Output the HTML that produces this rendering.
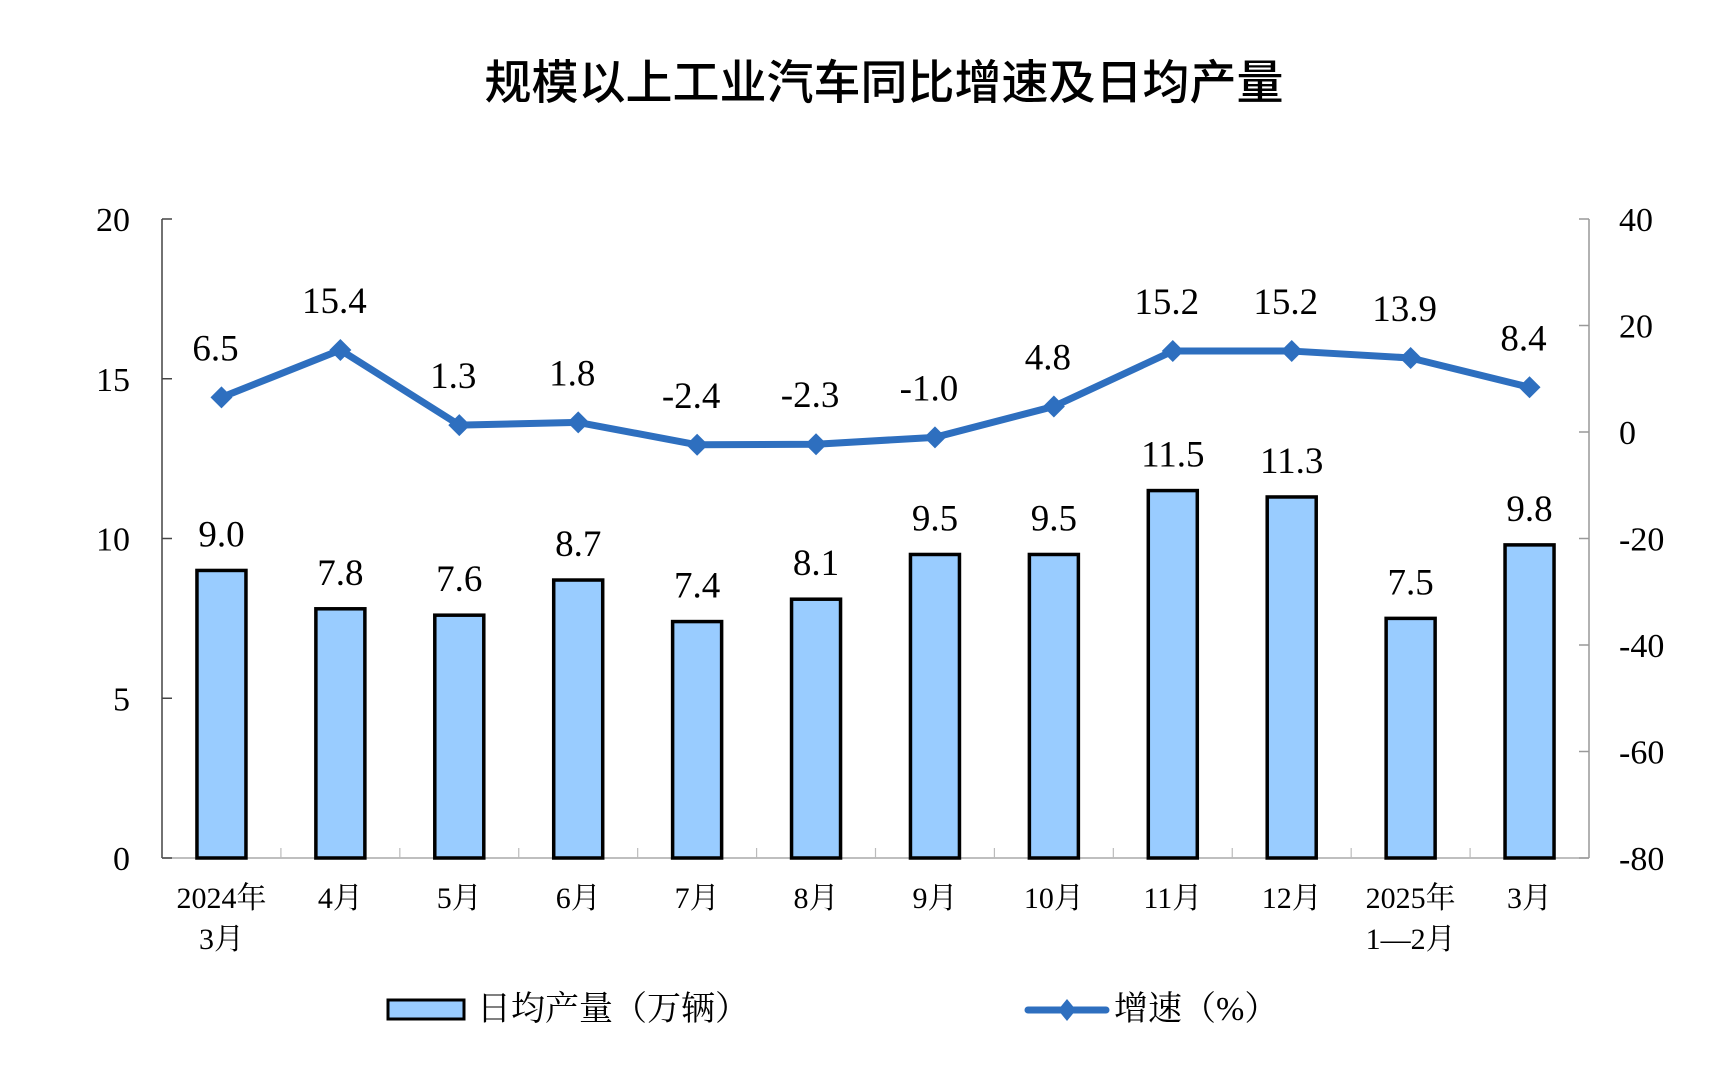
<!DOCTYPE html>
<html><head><meta charset="utf-8"><style>
html,body{margin:0;padding:0;background:#fff}
svg{display:block}
.s{font-family:"Liberation Serif","Noto Serif CJK SC",serif}
</style></head><body>
<svg width="1728" height="1068" viewBox="0 0 1728 1068" xmlns="http://www.w3.org/2000/svg">
<text x="884" y="99" text-anchor="middle" font-family="Liberation Sans, Noto Sans CJK SC, sans-serif" font-size="47" font-weight="500" fill="#000">规模以上工业汽车同比增速及日均产量</text>
<g id="axes"></g>
<g id="bars"></g>
<g id="line"></g>
<g id="legend">
<rect x="388" y="1000" width="76" height="19" fill="#99ccff" stroke="#000" stroke-width="3"/>
<text class="s" x="477" y="1020" font-size="34">日均产量（万辆）</text>
<line x1="1028" y1="1010" x2="1106" y2="1010" stroke="#2e6fbf" stroke-width="7" stroke-linecap="round"/>
<path d="M1067 999 L1076 1010 L1067 1021 L1058 1010Z" fill="#2e6fbf"/>
<text class="s" x="1114" y="1020" font-size="34">增速（%）</text>
</g>
</svg>
<script>
const categories=[["2024年","3月"],["4月"],["5月"],["6月"],["7月"],["8月"],["9月"],["10月"],["11月"],["12月"],["2025年","1—2月"],["3月"]];
const production=[9.0,7.8,7.6,8.7,7.4,8.1,9.5,9.5,11.5,11.3,7.5,9.8];
const growth=[6.5,15.4,1.3,1.8,-2.4,-2.3,-1.0,4.8,15.2,15.2,13.9,8.4];
const leftTicks=[0,5,10,15,20];
const rightTicks=[-80,-60,-40,-20,0,20,40];
const NS="http://www.w3.org/2000/svg";
const X0=162,X1=1589,YT=219,YB=858;
const step=(X1-X0)/categories.length;
const xc=i=>X0+step*(i+0.5);
const yL=v=>YB-(v-0)/(20-0)*(YB-YT);
const yR=v=>YB-(v+80)/120*(YB-YT);
function mk(tag,attrs,parent,txt){const e=document.createElementNS(NS,tag);for(const k in attrs)e.setAttribute(k,attrs[k]);if(txt!==undefined)e.textContent=txt;parent.appendChild(e);return e;}
const axes=document.getElementById('axes'),bars=document.getElementById('bars'),line=document.getElementById('line');
let e;
e=mk('line',{x1:X0,y1:YT,x2:X0,y2:YB,stroke:'#444','stroke-width':1.5},axes);


e=mk('line',{x1:X1,y1:YT,x2:X1,y2:YB,stroke:'#999','stroke-width':1.5},axes);


e=mk('line',{x1:X0,y1:YB,x2:X1,y2:YB,stroke:'#aaa','stroke-width':1.5},axes);


leftTicks.forEach(v=>{
 mk('line',{x1:X0,y1:yL(v),x2:X0+10,y2:yL(v),stroke:'#444','stroke-width':1.5},axes);
 e=mk('text',{x:X0-32,y:yL(v)+12,'text-anchor':'end','font-size':34,class:'s'},axes,String(v));
 
 
});
rightTicks.forEach(v=>{
 mk('line',{x1:X1-10,y1:yR(v),x2:X1,y2:yR(v),stroke:'#999','stroke-width':1.5},axes);
 e=mk('text',{x:X1+30,y:yR(v)+12,'text-anchor':'start','font-size':34,class:'s'},axes,String(v));
 
 
});
for(let i=1;i<categories.length;i++){mk('line',{x1:X0+step*i,y1:YB-10,x2:X0+step*i,y2:YB,stroke:'#bbb','stroke-width':1.2},axes);}
categories.forEach((c,i)=>{
 c.forEach((t,j)=>{
  e=mk('text',{x:xc(i),y:908+j*41,'text-anchor':'middle','font-size':30,class:'s'},axes,t);
  
  
 });
});
const bw=49;
production.forEach((v,i)=>{
 e=mk('rect',{x:xc(i)-bw/2,y:yL(v),width:bw,height:YB-yL(v),fill:'#99ccff',stroke:'#000','stroke-width':3.5},bars);
 
 
 e=mk('text',{x:xc(i),y:yL(v)-24,'text-anchor':'middle','font-size':37,class:'s'},bars,v.toFixed(1));
 
 
});
const pts=growth.map((v,i)=>xc(i)+','+yR(v)).join(' ');
e=mk('polyline',{points:pts,fill:'none',stroke:'#2e6fbf','stroke-width':7,'stroke-linejoin':'round'},line);


growth.forEach((v,i)=>{
 const x=xc(i),y=yR(v);
 e=mk('path',{d:`M${x} ${y-11}L${x+11} ${y}L${x} ${y+11}L${x-11} ${y}Z`,fill:'#2e6fbf'},line);
 
 
 e=mk('text',{x:x-6,y:y-37,'text-anchor':'middle','font-size':37,class:'s'},line,v.toFixed(1));
 
 
});
</script>
</body></html>
